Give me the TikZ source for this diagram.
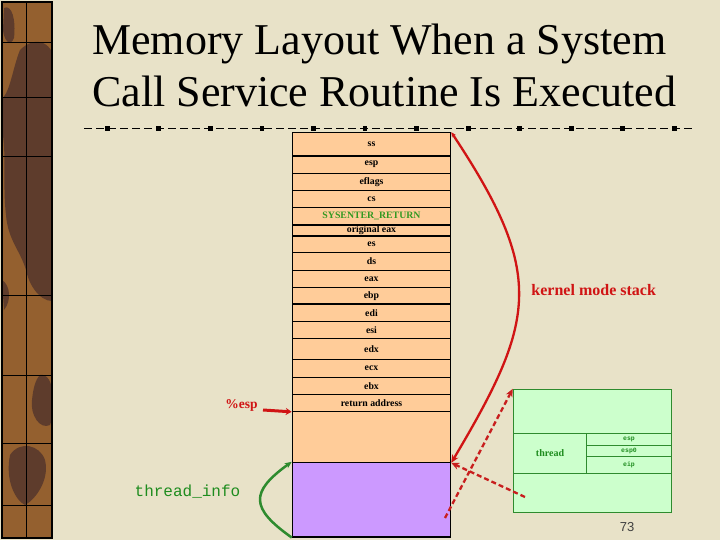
\documentclass[tikz,border=0pt]{standalone}
\usepackage{fontspec}
\setmainfont{Liberation Serif}
\newfontfamily\monof{Liberation Mono}
\newfontfamily\sansf{Liberation Sans}
\usetikzlibrary{arrows.meta}
\definecolor{bgc}{HTML}{E8E2C8}
\definecolor{orangec}{HTML}{FFCC99}
\definecolor{purplec}{HTML}{CC99FF}
\definecolor{lightg}{HTML}{CCFFCC}
\definecolor{boxgreen}{HTML}{2E8B2E}
\definecolor{textgreen}{HTML}{1E8C1E}
\definecolor{sysgreen}{HTML}{339922}
\definecolor{redc}{HTML}{D01414}
\definecolor{dredc}{HTML}{C81E1E}
\definecolor{barbrown}{HTML}{94602F}
\definecolor{bardark}{HTML}{5E3C2C}
\newcommand\stackrow[4]{\node[row, minimum height={(#3-#2)*1pt}] (#1) at (371.5,{(#2+#3)/2}) {#4};}
\begin{document}
\begin{tikzpicture}[x=1pt,y=-1pt,
  row/.style={draw=black, line width=1.1pt, fill=orangec, minimum width=158.4pt, inner sep=0pt,
    font=\fontsize{9.8}{10}\selectfont\bfseries},
  gcell/.style={draw=boxgreen, line width=1pt, fill=lightg, inner sep=0pt},
  tiny/.style={font=\monof\bfseries\fontsize{6.5}{7}\selectfont, text=textgreen},
  redtip/.style={-{Stealth[length=8pt,width=7pt]}},
]
\useasboundingbox (0,0) rectangle (720,540);
\fill[bgc] (0,0) rectangle (720,540);

% left decorative bar
\begin{scope}
  \clip (2,2) rectangle (52,538);
  \fill[barbrown] (0,0) rectangle (60,540);
  \fill[bardark] (4,8) .. controls (12,4) and (16,20) .. (14,38) .. controls (10,48) and (4,40) .. (3,30) -- cycle;
  \fill[bardark] (20,50) .. controls (35,35) and (55,40) .. (56,70) -- (56,300)
     .. controls (45,305) and (30,290) .. (26,270) .. controls (20,250) and (8,240) .. (6,215)
     .. controls (2,180) and (8,150) .. (0,120) -- (0,100) .. controls (10,95) and (12,70) .. cycle;
  \fill[bardark] (2,280) .. controls (10,285) and (12,300) .. (4,310) -- cycle;
  \fill[bardark] (40,375) .. controls (55,372) and (56,410) .. (50,425) .. controls (40,430) and (30,415) .. (32,400) .. controls (33,390) and (35,380) .. cycle;
  \fill[bardark] (10,455) .. controls (20,440) and (40,445) .. (45,460) .. controls (50,480) and (35,500) .. (25,505) .. controls (15,500) and (5,480) .. cycle;
\end{scope}
\draw[line width=0.7pt] (26,2) -- (26,538);
\foreach \yy in {42,97,156,295,375,443,505} \draw[line width=0.7pt] (2,\yy) -- (52,\yy);
\draw[line width=1.8pt] (2,2) rectangle (52,538);

% title
\node[anchor=base west, inner sep=0pt, font=\fontsize{44}{46}\selectfont] (t1) at (92,55) {Memory Layout When a System};
\node[anchor=base west, inner sep=0pt, font=\fontsize{44}{46}\selectfont] (t2) at (92,107) {Call Service Routine Is Executed};

% separator
\draw[line width=0.9pt, dash pattern=on 8pt off 4pt] (84,128.5) -- (694,128.5);
\foreach \k in {0,...,11} \fill ({107.3+51.55*\k-2.4},126.1) rectangle ++(4.8,4.8);

% stack
\stackrow{r1}{132.7}{156}{ss}
\stackrow{r2}{156}{173.3}{esp}
\stackrow{r3}{173.3}{190.7}{eflags}
\stackrow{r4}{190.7}{207.7}{cs}
\stackrow{r5}{207.7}{225}{\textcolor{sysgreen}{SYSENTER\_RETURN}}
\stackrow{r6}{225}{236}{original eax}
\stackrow{r7}{236}{252.7}{es}
\stackrow{r8}{252.7}{270.5}{ds}
\stackrow{r9}{270.5}{287.3}{eax}
\stackrow{r10}{287.3}{304}{ebp}
\stackrow{r11}{304}{321.3}{edi}
\stackrow{r12}{321.3}{338.7}{esi}
\stackrow{r13}{338.7}{359.3}{edx}
\stackrow{r14}{359.3}{377.3}{ecx}
\stackrow{r15}{377.3}{394.7}{ebx}
\stackrow{r16}{394.7}{411.3}{return address}
\stackrow{r17}{411.3}{462.3}{}
\node[row, fill=purplec, minimum height=74.7pt] (r18) at (371.5,499.65) {};

% labels
\node[text=redc, font=\bfseries\fontsize{16}{18}\selectfont] (kms) at (593.7,290) {kernel mode stack};
\node[text=redc, font=\bfseries\fontsize{13.5}{14}\selectfont] (espl) at (241.5,405) {\%esp};
\node[text=textgreen, font=\monof\fontsize{16}{18}\selectfont] (tinfo) at (187.5,492) {thread\_info};
\node[text=black!75, font=\sansf\fontsize{13}{14}\selectfont] (pnum) at (627,527) {73};

% thread box
\node[gcell, minimum width=158pt, minimum height=44pt] (tb1) at (592.3,411.3) {};
\node[gcell, minimum width=73.4pt, minimum height=40pt, text=textgreen, font=\bfseries\fontsize{10}{11}\selectfont] (tth) at (550,453.3) {thread};
\node[gcell, minimum width=84.6pt, minimum height=12pt, tiny] (tesp) at (629,439.3) {esp};
\node[gcell, minimum width=84.6pt, minimum height=11.4pt, tiny] (tesp0) at (629,451) {esp0};
\node[gcell, minimum width=84.6pt, minimum height=16.6pt, tiny] (teip) at (629,465) {eip};
\node[gcell, minimum width=158pt, minimum height=39pt] (tb2) at (592.3,492.8) {};

% connectors
\draw[redc, line width=2.3pt, {Stealth[length=5pt,width=4.5pt]}-{Stealth[length=8pt,width=7pt]}]
  (r1.north east) .. controls (546,275) and (536,320) .. (r17.south east);
\coordinate (d1) at (445,518);
\coordinate (d2) at (525,497);
\draw[dredc, line width=2.3pt, dash pattern=on 5pt off 3pt, redtip] (d1) -- (tb1.north west);
\draw[dredc, line width=2.3pt, dash pattern=on 5pt off 3pt, redtip] (d2) -- (r17.south east);
\draw[boxgreen, line width=2.5pt, -{Stealth[length=7pt,width=6pt]}]
  (r18.south west) .. controls (250,508) and (250,492) .. (r18.north west);
\coordinate (espstart) at (263,410);
\draw[redc, line width=3pt, -{Stealth[length=6pt,width=7pt]}] (espstart) -- (r16.south west);
\end{tikzpicture}
\end{document}
